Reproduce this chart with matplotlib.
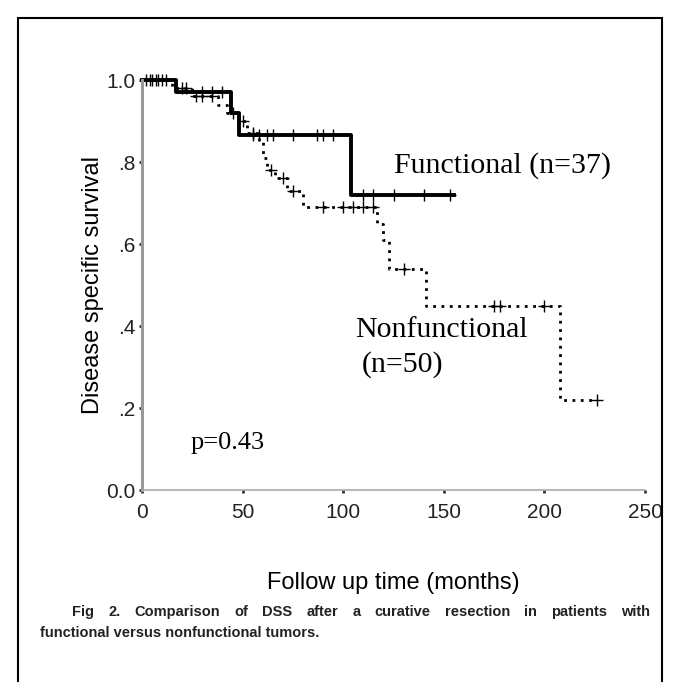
import numpy as np
import matplotlib.pyplot as plt
from matplotlib.patches import Rectangle

# Functional group (n=37): step times and survival after each step
func_t = [0, 17, 44, 48, 104, 155]
func_s = [1.0, 0.97, 0.92, 0.865, 0.72, 0.72]
func_cens = [2, 5, 8, 12, 30, 35, 40, 55, 58, 62, 65, 75, 87, 90, 95, 110, 115, 125, 140, 153]

# Nonfunctional group (n=50)
nonf_t = [0, 15, 25, 38, 42, 48, 52, 58, 60, 62, 66, 72, 80, 117, 120, 123, 141, 208, 226]
nonf_s = [1.0, 0.98, 0.96, 0.94, 0.92, 0.90, 0.87, 0.85, 0.81, 0.78, 0.76, 0.73, 0.69,
          0.65, 0.61, 0.54, 0.45, 0.22, 0.22]
nonf_cens = [4, 7, 10, 20, 22, 27, 30, 35, 45, 50, 55, 64, 70, 75, 90, 100, 105, 110, 115,
             130, 175, 178, 200, 226]

y_ticks = [0.0, 0.2, 0.4, 0.6, 0.8, 1.0]
y_labels = ['0.0', '.2', '.4', '.6', '.8', '1.0']
x_ticks = [0, 50, 100, 150, 200, 250]

caption1 = 'Fig 2.  Comparison of DSS after a curative resection in patients with'
caption2 = 'functional versus nonfunctional tumors.'

CAP_FONT = ['DejaVu Sans Condensed', 'Liberation Sans Narrow', 'Liberation Sans']


def surv_at(times, surv, t):
    # valeur de la courbe en escalier au temps t
    idx = np.searchsorted(times, t, side='right') - 1
    return np.array(surv)[idx]


fig = plt.figure(figsize=(6.8, 6.82), dpi=100)
fig.patches.append(Rectangle((18 / 680, -0.05), 644 / 680, 1 - 18 / 682 + 0.05,
                             transform=fig.transFigure, fill=False, lw=1.5,
                             edgecolor='black'))

ax = fig.add_axes([142 / 680, 1 - 490 / 682, 503 / 680, 410 / 682])

ax.step(func_t, func_s, where='post', color='black', lw=2.8, clip_on=False)
ax.plot(func_cens, surv_at(func_t, func_s, func_cens), '+', color='black',
        ms=9, mew=1.0, clip_on=False)

ax.step(nonf_t, nonf_s, where='post', color='black', lw=2.0, ls=(0, (1, 2.0)),
        clip_on=False)
ax.plot(nonf_cens, surv_at(nonf_t, nonf_s, nonf_cens), '+', color='black',
        ms=9, mew=1.0, clip_on=False)

ax.set_xlim(0, 250)
ax.set_ylim(0, 1.0)
ax.set_xticks(x_ticks)
ax.set_yticks(y_ticks)
ax.set_yticklabels(y_labels)
for lab in ax.get_xticklabels() + ax.get_yticklabels():
    lab.set_fontfamily('Liberation Sans')
    lab.set_fontsize(15)
    lab.set_color('#222222')
ax.tick_params(axis='x', length=2, width=2, color='#333333', pad=7)
ax.tick_params(axis='y', length=2, width=2, color='#333333', pad=3)

for s in ['top', 'right']:
    ax.spines[s].set_visible(False)
ax.spines['left'].set_color('#999999')
ax.spines['left'].set_linewidth(2.2)
ax.spines['bottom'].set_color('#aaaaaa')
ax.spines['bottom'].set_linewidth(1.2)

ax.set_ylabel('Disease specific survival', fontfamily='Liberation Sans', fontsize=17,
              labelpad=1)
ax.set_xlabel('Follow up time (months)', fontfamily='Liberation Sans', fontsize=17,
              labelpad=36)

ax.text(125, 0.773, 'Functional (n=37)', fontfamily='Liberation Serif', fontsize=21.5)
ax.text(106, 0.373, 'Nonfunctional', fontfamily='Liberation Serif', fontsize=21.5)
ax.text(109, 0.288, '(n=50)', fontfamily='Liberation Serif', fontsize=21.5)
ax.text(24, 0.10, 'p=0.43', fontfamily='Liberation Serif', fontsize=19)

# légende de la figure : ligne 1 justifiée entre x=72 et x=650
fig.canvas.draw()
renderer = fig.canvas.get_renderer()
words = caption1.replace('  ', ' ').split(' ')
items = [fig.text(0, 1 - 612 / 682, w, fontfamily=CAP_FONT, fontweight='bold',
                  fontsize=10.5, color='#222222', va='center') for w in words]
widths = [t.get_window_extent(renderer).width for t in items]
x0, x1 = 72, 650
gap = (x1 - x0 - sum(widths)) / (len(words) - 1)
x = x0
for t, w in zip(items, widths):
    t.set_x(x / 680)
    x += w + gap
fig.text(40 / 680, 1 - 633 / 682, caption2, fontfamily=CAP_FONT, fontweight='bold',
         fontsize=10.5, color='#222222', va='center')

fig.savefig('out.png', dpi=100, facecolor='white')
